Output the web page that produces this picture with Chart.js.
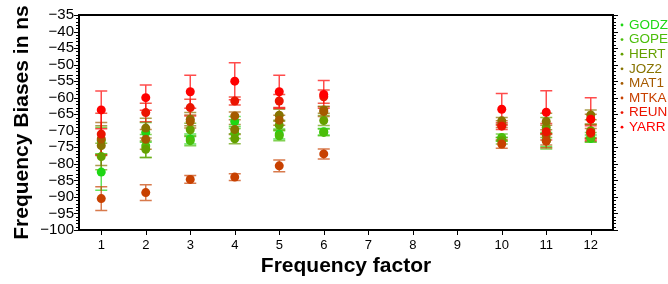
<!DOCTYPE html>
<html><head><meta charset="utf-8">
<script src="https://cdn.jsdelivr.net/npm/chart.js@4/dist/chart.umd.min.js"></script>
<style>html,body{margin:0;padding:0;background:#fff}#wrap{width:668px;height:284px}</style>
</head><body><div id="wrap"><canvas id="c" width="668" height="284"></canvas></div>
<script>
const freqFactors = [1,2,3,4,5,6,7,8,9,10,11,12];
const stations = ['GODZ','GOPE','HERT','JOZ2','MAT1','MTKA','REUN','YARR'];
const stationColors = ['rgb(30,215,20)','rgb(75,190,10)','rgb(100,160,0)','rgb(135,115,0)','rgb(165,90,0)','rgb(200,65,0)','rgb(235,20,0)','rgb(255,0,0)'];

const GODZ = [-82.5,-70.5,-72.5,-67.2,-71.0,-70.3,null,null,null,-72.6,-72.8,-72.3];
const GODZ_err = [5.5,3.0,1.5,1.5,1.5,1.0,null,null,null,0.6,2.0,1.0];
const GOPE = [-73.0,-74.6,-73.0,-70.8,-71.5,-70.5,null,null,null,-72.0,-73.0,-72.0];
const GOPE_err = [4.0,3.5,1.5,1.5,1.5,1.0,null,null,null,1.0,2.5,1.5];
const HERT = [-77.8,-75.6,-69.7,-72.4,-68.3,-66.9,null,null,null,-73.0,-69.0,-70.0];
const HERT_err = [4.0,2.5,2.0,1.5,1.5,1.5,null,null,null,1.0,3.0,2.0];
const JOZ2 = [-74.5,-69.2,-66.5,-69.6,-65.3,-63.7,null,null,null,-67.0,-67.2,-65.2];
const JOZ2_err = [6.0,3.0,2.0,1.5,1.8,1.0,null,null,null,1.0,2.5,1.5];
const MAT1 = [-72.5,-72.6,-67.2,-65.5,-66.8,-64.2,null,null,null,-68.0,-71.3,-66.5];
const MAT1_err = [5.0,3.0,2.0,1.2,1.5,1.5,null,null,null,1.0,3.0,1.5];
const MTKA = [-90.5,-88.7,-84.7,-84.0,-80.6,-77.0,null,null,null,-74.0,-73.1,-70.8];
const MTKA_err = [3.6,2.4,1.2,1.0,1.8,1.5,null,null,null,1.3,2.0,1.5];
const REUN = [-71.0,-64.5,-63.0,-61.0,-61.0,-59.7,null,null,null,-68.6,-70.3,-70.5];
const REUN_err = [6.3,2.8,2.5,1.2,2.0,2.0,null,null,null,1.0,2.5,2.0];
const YARR = [-63.7,-60.0,-58.2,-55.0,-58.2,-59.0,null,null,null,-63.5,-64.4,-66.5];
const YARR_err = [5.7,3.8,5.0,5.6,5.0,4.2,null,null,null,4.8,6.5,6.5];

const yTicks = [-100,-95,-90,-85,-80,-75,-70,-65,-60,-55,-50,-45,-40,-35];

const values = [GODZ,GOPE,HERT,JOZ2,MAT1,MTKA,REUN,YARR];
const errors = [GODZ_err,GOPE_err,HERT_err,JOZ2_err,MAT1_err,MTKA_err,REUN_err,YARR_err];

const FONT = '"Liberation Sans", Arial, Helvetica, sans-serif';

const datasets = stations.map((name, s) => ({
  label: name,
  data: freqFactors.map((f, i) => ({x: f, y: values[s][i], e: errors[s][i]})).filter(p => p.y !== null),
  backgroundColor: stationColors[s],
  borderColor: stationColors[s],
  pointRadius: 4.5,
  pointBorderWidth: 0,
  showLine: false,
  order: stations.length - 1 - s
}));

function withAlpha(c, a) { return c.replace('rgb(', 'rgba(').replace(')', ',' + a + ')'); }

const errorBars = {
  id: 'errorBars',
  beforeDatasetsDraw(chart) {
    const ctx = chart.ctx, xs = chart.scales.x, ys = chart.scales.y;
    ctx.save();
    chart.data.datasets.forEach((ds, s) => {
      ctx.strokeStyle = withAlpha(stationColors[s], 0.7);
      ctx.lineWidth = 1.5;
      ds.data.forEach(p => {
        const px = xs.getPixelForValue(p.x);
        const y1 = ys.getPixelForValue(p.y + p.e);
        const y2 = ys.getPixelForValue(p.y - p.e);
        ctx.beginPath();
        ctx.moveTo(px, y1); ctx.lineTo(px, y2);
        ctx.moveTo(px - 6, y1); ctx.lineTo(px + 6, y1);
        ctx.moveTo(px - 6, y2); ctx.lineTo(px + 6, y2);
        ctx.stroke();
      });
    });
    ctx.restore();
  }
};

const frame = {
  id: 'frame',
  afterDraw(chart) {
    const ctx = chart.ctx, a = chart.chartArea, xs = chart.scales.x, ys = chart.scales.y;
    ctx.save();
    ctx.strokeStyle = '#000';
    ctx.lineWidth = 1;
    ctx.beginPath();
    for (let v = -100; v <= -35; v++) {
      const py = Math.round(ys.getPixelForValue(v)) + 0.5;
      const len = (v % 5 === 0) ? 5 : 3;
      ctx.moveTo(a.left - len, py); ctx.lineTo(a.left, py);
      ctx.moveTo(a.right, py); ctx.lineTo(a.right + len, py);
    }
    freqFactors.forEach(f => {
      const px = Math.round(xs.getPixelForValue(f)) + 0.5;
      ctx.moveTo(px, a.bottom); ctx.lineTo(px, a.bottom + 5);
    });
    ctx.stroke();
    ctx.lineWidth = 2;
    ctx.strokeRect(a.left, a.top, a.right - a.left, a.bottom - a.top);
    // legend
    ctx.font = '13.5px ' + FONT;
    ctx.textBaseline = 'middle';
    ctx.textAlign = 'left';
    stations.forEach((name, s) => {
      const y = 25 + s * 14.6;
      ctx.fillStyle = stationColors[s];
      ctx.beginPath(); ctx.arc(622, y, 1.4, 0, Math.PI * 2); ctx.fill();
      ctx.fillText(name, 629, y);
    });
    ctx.restore();
  }
};

new Chart(document.getElementById('c'), {
  type: 'scatter',
  data: {datasets},
  plugins: [errorBars, frame],
  options: {
    responsive: false,
    animation: false,
    devicePixelRatio: 1,
    layout: {padding: {top: 15, right: 55, bottom: 0, left: 0}},
    plugins: {legend: {display: false}, tooltip: {enabled: false}},
    scales: {
      x: {
        type: 'linear', min: 0.5, max: 12.5,
        afterBuildTicks: s => { s.ticks = freqFactors.map(v => ({value: v})); },
        afterFit: s => { s.height = 54; },
        grid: {display: false, drawTicks: false},
        border: {display: false},
        ticks: {color: '#000', font: {family: FONT, size: 13}, padding: 8, autoSkip: false, maxRotation: 0},
        title: {display: true, text: 'Frequency factor', color: '#000', font: {family: FONT, size: 21, weight: 'bold', lineHeight: 1.2}, padding: {top: 0, bottom: 5}}
      },
      y: {
        type: 'linear', min: -100, max: -35,
        afterBuildTicks: s => { s.ticks = yTicks.map(v => ({value: v})); },
        afterFit: s => { s.width = 79; },
        grid: {display: false, drawTicks: false},
        border: {display: false},
        ticks: {color: '#000', font: {family: FONT, size: 15}, padding: 5, autoSkip: false,
          callback: v => String(v).replace('-', '\u2212')},
        title: {display: true, text: 'Frequency Biases in ns', color: '#000', font: {family: FONT, size: 21, weight: 'bold', lineHeight: 1.2}, padding: {top: 10, bottom: 0}}
      }
    }
  }
});
</script>
</body></html>
